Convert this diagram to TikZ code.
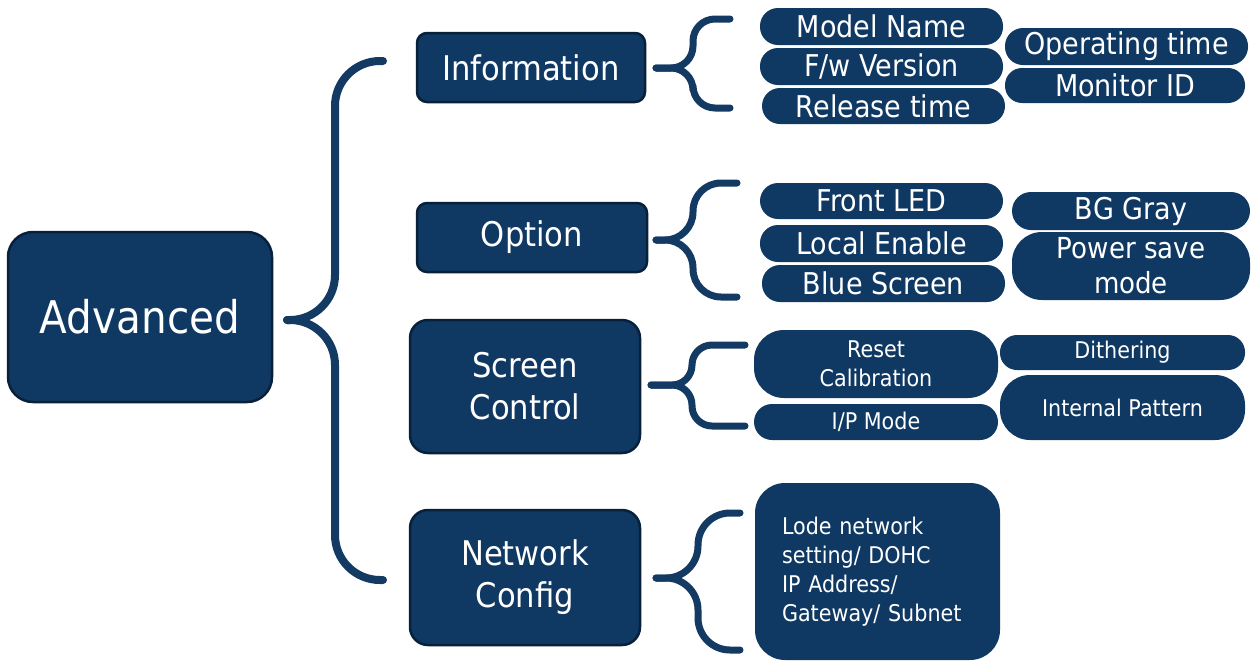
\documentclass[tikz,border=0pt]{standalone}
\usepackage{fontspec}
\setmainfont{DejaVu Sans}[FakeStretch=0.9]
\definecolor{navy}{RGB}{15,57,99}
\definecolor{navyedge}{RGB}{8,32,58}
\definecolor{bracecol}{RGB}{18,58,98}
\begin{document}
\begin{tikzpicture}[x=1pt,y=-1pt,
  mainbox/.style={draw=navyedge, line width=2.5pt, fill=navy, text=white, inner sep=0pt, align=center},
  pill/.style={fill=navy, text=white, inner sep=0pt, align=center},
  bigtxt/.style={font=\fontsize{34}{42}\selectfont},
  leaftxt/.style={font=\fontsize{30}{35}\selectfont},
  smalltxt/.style={font=\fontsize{23}{29}\selectfont},
  bracecurve/.style={draw=bracecol, line width=7pt, line cap=round, line join=round}]
\useasboundingbox (0,0) rectangle (1251,662);

% root
\node[mainbox, rounded corners=25, minimum width=264, minimum height=170,
      font=\fontsize{45}{50}\selectfont] (adv) at (140,317) {Advanced};

% level 1
\node[mainbox, bigtxt, rounded corners=10, minimum width=228, minimum height=69] (info) at (531,67.5) {Information};
\node[mainbox, bigtxt, rounded corners=10, minimum width=230, minimum height=69] (opt) at (532,237.5) {Option};
\node[mainbox, bigtxt, rounded corners=18, minimum width=230, minimum height=133] (scr) at (525,386.5) {Screen\\Control};
\node[mainbox, bigtxt, rounded corners=18, minimum width=230, minimum height=135] (net) at (525,577.5) {Network\\Config};

% information leaves
\node[pill, leaftxt, rounded corners=18, minimum width=243, minimum height=37] (model) at (881.5,26.5) {Model Name};
\node[pill, leaftxt, rounded corners=18, minimum width=243, minimum height=37] (fw) at (881.5,66.5) {F/w Version};
\node[pill, leaftxt, rounded corners=18, minimum width=243, minimum height=36] (rel) at (883.5,106) {Release time};
\node[pill, leaftxt, rounded corners=18, minimum width=243, minimum height=37] (optime) at (1126.5,46.5) {Operating time};
\node[pill, leaftxt, rounded corners=17, minimum width=240, minimum height=35] (monid) at (1125,85.5) {Monitor ID};

% option leaves
\node[pill, leaftxt, rounded corners=18, minimum width=243, minimum height=36] (led) at (881.5,201) {Front LED};
\node[pill, leaftxt, rounded corners=18, minimum width=243, minimum height=37] (local) at (881.5,243.5) {Local Enable};
\node[pill, leaftxt, rounded corners=18, minimum width=243, minimum height=37] (blue) at (883.5,283.5) {Blue Screen};
\node[pill, leaftxt, rounded corners=19, minimum width=238, minimum height=38] (bg) at (1131,211) {BG Gray};
\node[pill, font=\fontsize{29}{35}\selectfont, rounded corners=30, minimum width=238, minimum height=68] (psm) at (1131,266) {Power save\\mode};

% screen control leaves
\node[pill, smalltxt, rounded corners=30, minimum width=244, minimum height=68] (reset) at (876,364) {Reset\\Calibration};
\node[pill, smalltxt, rounded corners=18, minimum width=244, minimum height=36] (ip) at (876,422) {I/P Mode};
\node[pill, smalltxt, rounded corners=17, minimum width=245, minimum height=35] (dith) at (1122.5,352.5) {Dithering};
\node[pill, smalltxt, rounded corners=30, minimum width=245, minimum height=65] (pat) at (1122.5,407.5) {Internal Pattern};

% network leaf
\node[pill, smalltxt, rounded corners=30, minimum width=245, minimum height=177,
      text width=191, align=left] (lan) at (877.5,571.5)
  {Lode network\\setting/ DOHC\\IP Address/\\Gateway/ Subnet};

% brace coordinates
\coordinate (rt) at (383,61);  \coordinate (rtip) at (287,320); \coordinate (rb) at (383,580);
\coordinate (it) at (730,19);  \coordinate (itip) at (656,68);  \coordinate (ib) at (730,108);
\coordinate (ot) at (737,183); \coordinate (otip) at (656,240); \coordinate (ob) at (737,297);
\coordinate (st) at (745,345); \coordinate (stip) at (651,385); \coordinate (sb) at (745,426);
\coordinate (nt) at (740,513); \coordinate (ntip) at (656,578); \coordinate (nb) at (740,650);

% root brace
\draw[bracecurve, line width=8pt, rounded corners=45] (rt) -- (335,61) -- (335,320) -- (rtip);
\draw[bracecurve, line width=8pt, rounded corners=45] (rtip) -- (335,320) -- (335,580) -- (rb);
% information brace
\draw[bracecurve, rounded corners=22] (it) -- (693,19) -- (693,68) -- (itip);
\draw[bracecurve, rounded corners=22] (itip) -- (693,68) -- (693,108) -- (ib);
% option brace
\draw[bracecurve, rounded corners=28] (ot) -- (693,183) -- (693,240) -- (otip);
\draw[bracecurve, rounded corners=28] (otip) -- (693,240) -- (693,297) -- (ob);
% screen brace
\draw[bracecurve, rounded corners=20] (st) -- (692,345) -- (692,385) -- (stip);
\draw[bracecurve, rounded corners=20] (stip) -- (692,385) -- (692,426) -- (sb);
% network brace
\draw[bracecurve, rounded corners=32] (nt) -- (698,513) -- (698,578) -- (ntip);
\draw[bracecurve, rounded corners=32] (ntip) -- (698,578) -- (698,650) -- (nb);
\end{tikzpicture}
\end{document}
